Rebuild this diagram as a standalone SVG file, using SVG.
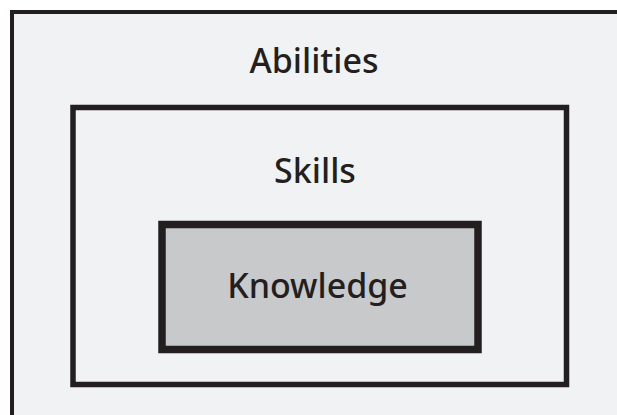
<svg xmlns="http://www.w3.org/2000/svg" width="617" height="415" viewBox="0 0 617 415">
<style>
.box{stroke:#231f20;}
.lbl{font-family:"Noto Sans","Open Sans","Liberation Sans",sans-serif;font-size:34px;font-weight:500;fill:#231f20;text-anchor:middle;}
</style>
<rect x="0" y="0" width="617" height="415" fill="#ffffff"/>
<g id="abilities">
<rect class="box" x="12" y="12" width="640" height="440" fill="#f1f2f4" stroke-width="4"/>
<text class="lbl" x="314" y="73">Abilities</text>
</g>
<g id="skills">
<rect class="box" x="73" y="107.5" width="493.5" height="277" fill="none" stroke-width="5.5"/>
<text class="lbl" x="315" y="183">Skills</text>
</g>
<g id="knowledge">
<rect class="box" x="162" y="224.5" width="316" height="125" fill="#c8c9cb" stroke-width="7.5"/>
<text class="lbl" x="317.5" y="298">Knowledge</text>
</g>
<g id="connectors"/>
</svg>
